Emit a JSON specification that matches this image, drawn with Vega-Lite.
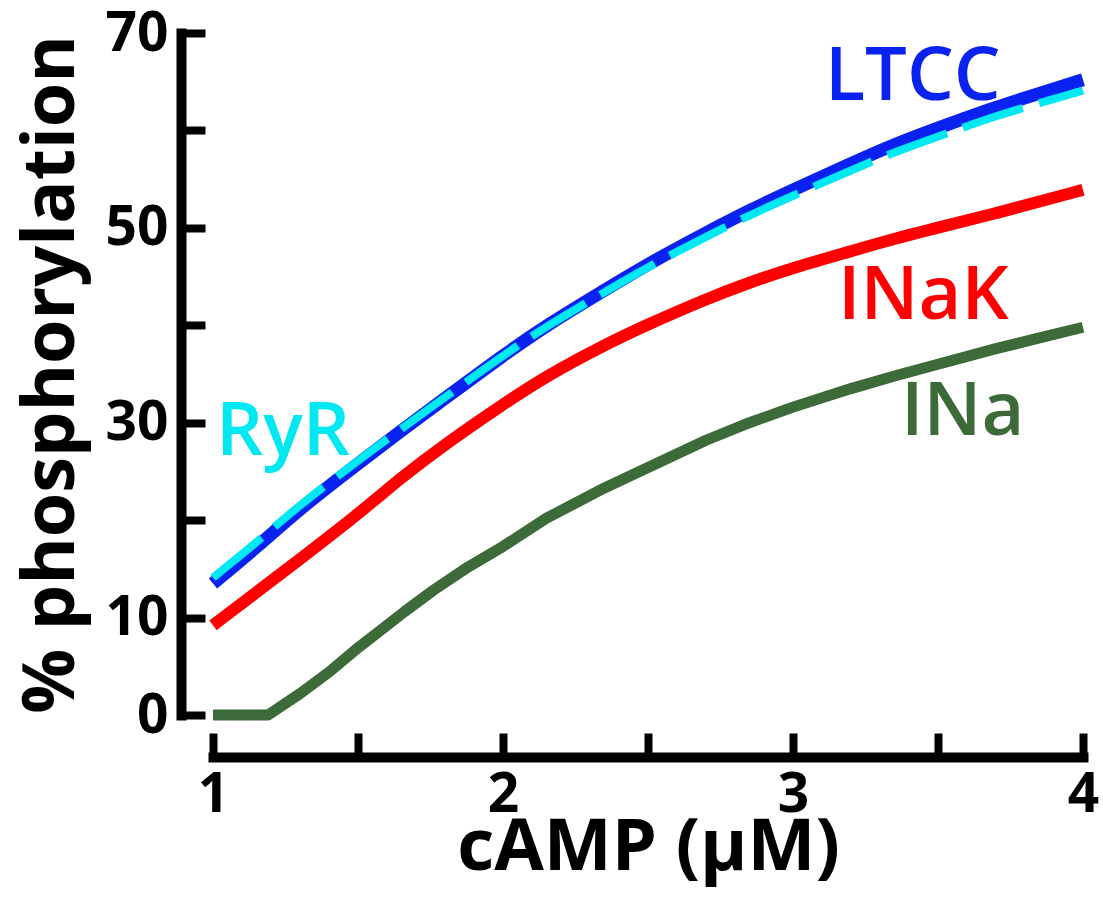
{
  "$schema": "https://vega.github.io/schema/vega-lite/v6.json",
  "width": 870,
  "height": 682,
  "autosize": {"type": "none"},
  "padding": {"left": 213, "top": 33, "right": 20, "bottom": 184},
  "background": "white",
  "config": {"view": {"stroke": null}, "font": "Open Sans"},
  "datasets": {
    "curves": [
      {"series": "LTCC", "x": 1.0, "y": 13.5}, {"series": "LTCC", "x": 1.15, "y": 17.2}, {"series": "LTCC", "x": 1.3, "y": 21.2},
      {"series": "LTCC", "x": 1.5, "y": 25.8}, {"series": "LTCC", "x": 1.65, "y": 29.2}, {"series": "LTCC", "x": 1.8, "y": 32.5},
      {"series": "LTCC", "x": 2.0, "y": 36.9}, {"series": "LTCC", "x": 2.15, "y": 40.0}, {"series": "LTCC", "x": 2.35, "y": 43.6},
      {"series": "LTCC", "x": 2.5, "y": 46.3}, {"series": "LTCC", "x": 2.7, "y": 49.5}, {"series": "LTCC", "x": 2.85, "y": 51.8},
      {"series": "LTCC", "x": 3.0, "y": 53.9}, {"series": "LTCC", "x": 3.2, "y": 56.6}, {"series": "LTCC", "x": 3.35, "y": 58.6},
      {"series": "LTCC", "x": 3.55, "y": 60.8}, {"series": "LTCC", "x": 3.7, "y": 62.4}, {"series": "LTCC", "x": 3.85, "y": 63.8},
      {"series": "LTCC", "x": 4.0, "y": 65.2},
      {"series": "RyR", "x": 1.0, "y": 14.1}, {"series": "RyR", "x": 1.15, "y": 17.7}, {"series": "RyR", "x": 1.3, "y": 21.6},
      {"series": "RyR", "x": 1.5, "y": 26.1}, {"series": "RyR", "x": 1.65, "y": 29.4}, {"series": "RyR", "x": 1.8, "y": 32.6},
      {"series": "RyR", "x": 2.0, "y": 36.9}, {"series": "RyR", "x": 2.15, "y": 39.9}, {"series": "RyR", "x": 2.35, "y": 43.4},
      {"series": "RyR", "x": 2.5, "y": 46.0}, {"series": "RyR", "x": 2.7, "y": 49.1}, {"series": "RyR", "x": 2.85, "y": 51.3},
      {"series": "RyR", "x": 3.0, "y": 53.3}, {"series": "RyR", "x": 3.2, "y": 55.9}, {"series": "RyR", "x": 3.35, "y": 57.8},
      {"series": "RyR", "x": 3.55, "y": 59.9}, {"series": "RyR", "x": 3.7, "y": 61.5}, {"series": "RyR", "x": 3.85, "y": 62.8},
      {"series": "RyR", "x": 4.0, "y": 64.1},
      {"series": "INaK", "x": 1.0, "y": 9.2}, {"series": "INaK", "x": 1.15, "y": 12.6}, {"series": "INaK", "x": 1.3, "y": 16.0},
      {"series": "INaK", "x": 1.5, "y": 20.6}, {"series": "INaK", "x": 1.65, "y": 24.4}, {"series": "INaK", "x": 1.8, "y": 27.8},
      {"series": "INaK", "x": 2.0, "y": 31.9}, {"series": "INaK", "x": 2.15, "y": 34.8}, {"series": "INaK", "x": 2.35, "y": 38.0},
      {"series": "INaK", "x": 2.5, "y": 40.1}, {"series": "INaK", "x": 2.7, "y": 42.7}, {"series": "INaK", "x": 2.85, "y": 44.4},
      {"series": "INaK", "x": 3.0, "y": 45.9}, {"series": "INaK", "x": 3.2, "y": 47.6}, {"series": "INaK", "x": 3.35, "y": 48.9},
      {"series": "INaK", "x": 3.55, "y": 50.4}, {"series": "INaK", "x": 3.7, "y": 51.5}, {"series": "INaK", "x": 3.85, "y": 52.7},
      {"series": "INaK", "x": 4.0, "y": 53.9},
      {"series": "INa", "x": 1.0, "y": 0}, {"series": "INa", "x": 1.1, "y": 0}, {"series": "INa", "x": 1.19, "y": 0},
      {"series": "INa", "x": 1.3, "y": 2.2}, {"series": "INa", "x": 1.4, "y": 4.4}, {"series": "INa", "x": 1.5, "y": 6.9},
      {"series": "INa", "x": 1.57, "y": 8.5}, {"series": "INa", "x": 1.66, "y": 10.6}, {"series": "INa", "x": 1.76, "y": 12.8},
      {"series": "INa", "x": 1.88, "y": 15.2}, {"series": "INa", "x": 2.0, "y": 17.3}, {"series": "INa", "x": 2.15, "y": 20.2},
      {"series": "INa", "x": 2.35, "y": 23.3}, {"series": "INa", "x": 2.5, "y": 25.4}, {"series": "INa", "x": 2.7, "y": 28.2},
      {"series": "INa", "x": 2.85, "y": 30.0}, {"series": "INa", "x": 3.0, "y": 31.6}, {"series": "INa", "x": 3.2, "y": 33.5},
      {"series": "INa", "x": 3.35, "y": 34.8}, {"series": "INa", "x": 3.5, "y": 36.0}, {"series": "INa", "x": 3.7, "y": 37.6},
      {"series": "INa", "x": 3.85, "y": 38.7}, {"series": "INa", "x": 4.0, "y": 39.8}
    ],
    "labels": [
      {"series": "LTCC", "name": "LTCC", "x": 3.11, "y": 63.1},
      {"series": "INaK", "name": "INaK", "x": 3.155, "y": 40.6},
      {"series": "INa", "name": "INa", "x": 3.372, "y": 28.7},
      {"series": "RyR", "name": "RyR", "x": 1.01, "y": 26.7}
    ]
  },
  "encoding": {
    "x": {
      "field": "x", "type": "quantitative",
      "scale": {"domain": [1, 4], "nice": false, "zero": false},
      "axis": {
        "title": "cAMP (μM)",
        "values": [1, 1.5, 2, 2.5, 3, 3.5, 4],
        "labelExpr": "datum.value % 1 === 0 ? format(datum.value, 'd') : ''",
        "offset": 42, "grid": false,
        "domainColor": "black", "domainWidth": 10, "domainCap": "square",
        "tickColor": "black", "tickWidth": 8, "tickSize": -24,
        "labelFont": "Open Sans", "labelFontSize": 55, "labelFontWeight": "bold", "labelColor": "black",
        "labelPadding": 35, "labelFlush": false, "labelOverlap": false,
        "titleFont": "Open Sans", "titleFontSize": 72, "titleFontWeight": "bold", "titleColor": "black",
        "titlePadding": -10
      }
    },
    "y": {
      "field": "y", "type": "quantitative",
      "scale": {"domain": [0, 70], "nice": false},
      "axis": {
        "title": "% phosphorylation",
        "values": [0, 10, 20, 30, 40, 50, 60, 70],
        "labelExpr": "(datum.value === 0 || datum.value % 20 === 10) ? format(datum.value, 'd') : ''",
        "offset": 32, "grid": false,
        "domainColor": "black", "domainWidth": 10, "domainCap": "square",
        "tickColor": "black", "tickWidth": 8, "tickSize": -24,
        "labelFont": "Open Sans", "labelFontSize": 55, "labelFontWeight": "bold", "labelColor": "black",
        "labelPadding": 37, "labelFlush": false, "labelOverlap": false,
        "titleFont": "Open Sans", "titleFontSize": 72, "titleFontWeight": "bold", "titleColor": "black",
        "titlePadding": 17
      }
    }
  },
  "layer": [
    {
      "data": {"name": "curves"},
      "transform": [{"filter": "datum.series === 'INa'"}],
      "mark": {"type": "line", "color": "#3c6a38", "strokeWidth": 11, "interpolate": "linear", "strokeCap": "butt", "strokeJoin": "round"}
    },
    {
      "data": {"name": "curves"},
      "transform": [{"filter": "datum.series === 'INaK'"}],
      "mark": {"type": "line", "color": "#ff0000", "strokeWidth": 12, "interpolate": "basis", "strokeCap": "butt"}
    },
    {
      "data": {"name": "curves"},
      "transform": [{"filter": "datum.series === 'LTCC'"}],
      "mark": {"type": "line", "color": "#0a22f0", "strokeWidth": 13, "interpolate": "basis", "strokeCap": "butt"}
    },
    {
      "data": {"name": "curves"},
      "transform": [{"filter": "datum.series === 'RyR'"}],
      "mark": {"type": "line", "color": "#00e8f2", "strokeWidth": 8, "interpolate": "basis", "strokeCap": "butt", "strokeDash": [63, 17]}
    },
    {
      "data": {"name": "labels"},
      "mark": {"type": "text", "align": "left", "baseline": "alphabetic", "font": "Open Sans", "fontSize": 74, "fontWeight": 600},
      "encoding": {
        "text": {"field": "name", "type": "nominal"},
        "color": {
          "field": "series", "type": "nominal", "legend": null,
          "scale": {"domain": ["LTCC", "INaK", "INa", "RyR"], "range": ["#0a22f0", "#ff0000", "#3c6a38", "#00e8f2"]}
        }
      }
    }
  ]
}
